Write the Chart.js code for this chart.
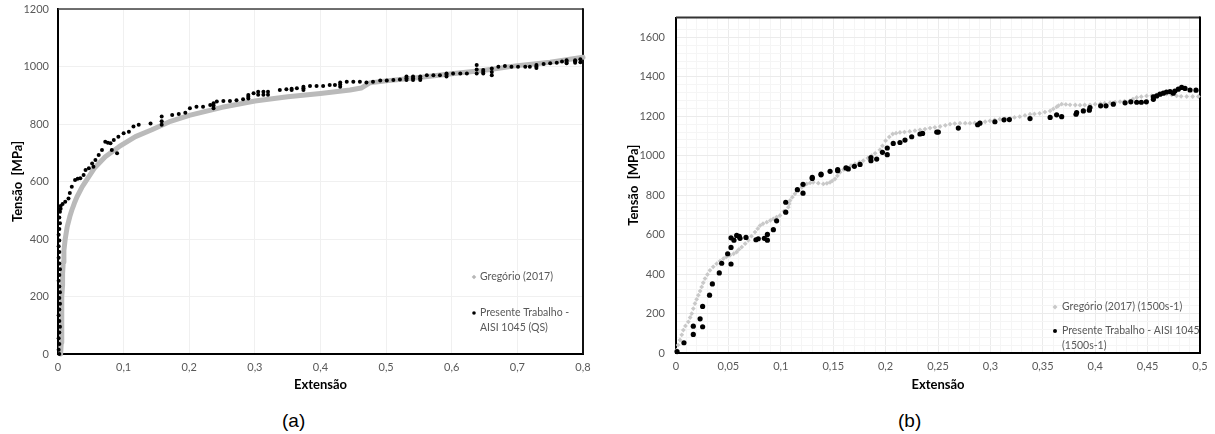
<!DOCTYPE html>
<html><head><meta charset="utf-8">
<script src="https://cdn.jsdelivr.net/npm/chart.js@4.4.1/dist/chart.umd.min.js"></script>
<style>
html,body{margin:0;padding:0;background:#fff;width:1215px;height:434px;overflow:hidden;position:relative}
.box{position:absolute;top:0;height:400px}
#ba{left:0;width:600px}
#bb{left:610px;width:605px}
.cap{position:absolute;top:411px;font:19px "Liberation Sans",Arial,sans-serif;line-height:1;color:#000}
</style></head><body>
<div class="box" id="ba"><canvas id="ca"></canvas></div>
<div class="box" id="bb"><canvas id="cb"></canvas></div>
<div class="cap" style="left:282px">(a)</div>
<div class="cap" style="left:898px">(b)</div>
<script>
// ---------- DATA ----------
const xTitle = 'Extensão';
const yTitle = 'Tensão  [MPa]';

// Chart (a)
const legendA_greg = ['Gregório (2017)'];
const legendA_pres = ['Presente Trabalho -', 'AISI 1045 (QS)'];
const xLabelsA = ['0','0,1','0,2','0,3','0,4','0,5','0,6','0,7','0,8'];
const yLabelsA = ['0','200','400','600','800','1000','1200'];
const gregA = [[0.004,0],[0.005,40],[0.006,80],[0.005,120],[0.006,160],[0.006,200],[0.007,240],[0.007,280],[0.008,320],[0.009,360],[0.011,400],[0.014,442],[0.018,478],[0.021,500],[0.025,525],[0.029,547],[0.037,582],[0.047,617],[0.056,648],[0.072,686],[0.093,721],[0.118,756],[0.143,780],[0.169,807],[0.2,830],[0.25,858],[0.3,880],[0.35,895],[0.4,906],[0.445,918],[0.462,925],[0.475,943],[0.5,950],[0.55,962],[0.6,975],[0.65,987],[0.7,1003],[0.75,1015],[0.8,1032]];
const presA = [[0.002,0],[0.001,15],[0.002,35],[0.001,55],[0.002,75],[0.003,95],[0.002,115],[0.001,135],[0.002,155],[0.003,175],[0.002,195],[0.003,215],[0.002,235],[0.001,255],[0.002,275],[0.003,295],[0.002,315],[0.001,335],[0.002,355],[0.001,375],[0.002,395],[0.001,415],[0.002,435],[0.003,455],[0.002,475],[0.003,495],[0.004,505],[0.004,515],
[0.007,522],[0.011,530],[0.016,541],[0.018,560],[0.021,582],[0.026,605],[0.03,610],[0.034,611],[0.039,623],[0.042,640],[0.047,646],[0.052,663],[0.054,651],[0.057,675],[0.062,692],[0.067,710],[0.072,738],[0.076,735],[0.08,733],[0.082,710],[0.09,698],[0.085,744],[0.092,756],[0.1,768],[0.108,773],[0.115,791],[0.123,797],[0.141,802],[0.158,797],[0.158,810],[0.158,826],[0.174,831],[0.184,835],[0.194,839],[0.201,855],[0.211,860],[0.221,860],[0.232,866],[0.237,855],[0.237,864],[0.237,872],[0.242,878],[0.252,880],[0.262,880],[0.272,883],[0.282,886],[0.29,889],[0.29,895],[0.29,901],[0.298,907],[0.305,902],[0.305,912],[0.313,902],[0.313,912],[0.32,902],[0.32,912],[0.338,918],[0.348,921],[0.356,918],[0.356,923],[0.364,924],[0.374,918],[0.374,924],[0.374,930],[0.384,932],[0.394,932],[0.404,932],[0.414,936],[0.422,936],[0.43,930],[0.43,937],[0.43,944],[0.44,947],[0.45,947],[0.46,947],[0.47,944],[0.48,947],[0.491,951],[0.501,951],[0.511,953],[0.521,955],[0.531,953],[0.531,959],[0.531,965],[0.541,953],[0.541,959],[0.541,965],[0.552,953],[0.552,959],[0.552,965],[0.562,970],[0.572,970],[0.582,970],[0.592,965],[0.592,971],[0.592,976],[0.602,976],[0.613,976],[0.623,976],[0.638,976],[0.638,990],[0.638,1005],[0.648,976],[0.648,982],[0.648,988],[0.661,970],[0.661,981],[0.661,993],[0.671,999],[0.681,1002],[0.691,999],[0.701,999],[0.712,999],[0.719,999],[0.729,995],[0.729,1000],[0.729,1005],[0.74,1009],[0.75,1011],[0.76,1013],[0.768,1017],[0.775,1011],[0.775,1016],[0.775,1022],[0.788,1013],[0.788,1018],[0.788,1022],[0.796,1015],[0.796,1025]];

// Chart (b)
const legendB_greg = ['Gregório (2017) (1500s-1)'];
const legendB_pres = ['Presente Trabalho - AISI 1045', '(1500s-1)'];
const xLabelsB = ['0','0,05','0,1','0,15','0,2','0,25','0,3','0,35','0,4','0,45','0,5'];
const yLabelsB = ['0','200','400','600','800','1000','1200','1400','1600'];
const gregB = [[0.0006,15],[0.002,40],[0.0038,66],[0.0055,92],[0.007,116],[0.009,137],[0.0118,158],[0.0135,180],[0.015,200],[0.0165,225],[0.0181,251],[0.0197,272],[0.0213,293],[0.023,314],[0.0245,335],[0.026,356],[0.0277,377],[0.03,398],[0.0324,419],[0.0355,437],[0.0388,453],[0.042,466],[0.0452,478],[0.048,487],[0.0515,495],[0.055,503],[0.0579,512],[0.06,525],[0.0627,537],[0.066,554],[0.069,571],[0.072,592],[0.0754,613],[0.078,630],[0.0802,646],[0.083,655],[0.0866,663],[0.09,672],[0.0929,680],[0.096,689],[0.0992,697],[0.103,718],[0.1072,739],[0.108,756],[0.1088,773],[0.111,790],[0.1135,807],[0.117,824],[0.12,840],[0.1225,850],[0.1247,857],[0.128,862],[0.131,865],[0.1358,861],[0.1406,857],[0.144,860],[0.147,865],[0.149,872],[0.1517,882],[0.154,898],[0.1565,916],[0.16,930],[0.1629,941],[0.167,950],[0.1708,958],[0.175,967],[0.1787,975],[0.183,988],[0.1866,1000],[0.19,1012],[0.1946,1030],[0.197,1050],[0.2,1076],[0.2035,1095],[0.2068,1110],[0.21,1114],[0.2137,1118],[0.218,1120],[0.223,1123],[0.228,1127],[0.2328,1131],[0.2376,1135],[0.2424,1140],[0.247,1144],[0.252,1148],[0.257,1154],[0.2615,1160],[0.266,1163],[0.271,1165],[0.276,1165],[0.2805,1165],[0.285,1166],[0.29,1168],[0.295,1172],[0.2996,1177],[0.304,1181],[0.309,1185],[0.314,1188],[0.3187,1190],[0.323,1194],[0.328,1198],[0.333,1204],[0.3378,1210],[0.342,1212],[0.347,1215],[0.352,1221],[0.357,1227],[0.36,1237],[0.3632,1247],[0.365,1254],[0.368,1261],[0.372,1260],[0.376,1258],[0.381,1257],[0.3855,1256],[0.39,1257],[0.395,1258],[0.4,1261],[0.405,1264],[0.409,1266],[0.4141,1269],[0.419,1271],[0.4237,1274],[0.428,1276],[0.433,1278],[0.436,1287],[0.4396,1295],[0.444,1299],[0.449,1303],[0.454,1305],[0.4587,1308],[0.463,1310],[0.468,1312],[0.473,1308],[0.4777,1303],[0.482,1301],[0.4873,1300],[0.493,1300],[0.4984,1300]];
const presB = [[0.001,7],[0.0076,52],[0.0165,94],[0.0165,136],[0.023,173],[0.0254,133],[0.0254,236],[0.032,293],[0.0347,350],[0.0413,406],[0.0436,455],[0.0493,503],[0.0525,535],[0.0525,451],[0.0525,584],[0.0553,572],[0.0579,596],[0.0604,591],[0.0611,581],[0.0668,586],[0.0763,574],[0.0785,579],[0.0843,581],[0.0872,572],[0.0872,601],[0.0929,625],[0.096,670],[0.1047,714],[0.1047,764],[0.1158,828],[0.1212,855],[0.1212,810],[0.13,890],[0.13,885],[0.1384,907],[0.1384,903],[0.147,921],[0.1543,929],[0.1543,924],[0.1622,938],[0.1644,933],[0.1702,946],[0.1756,956],[0.186,991],[0.186,975],[0.1915,983],[0.197,1017],[0.2016,1005],[0.2016,1039],[0.2073,1062],[0.2137,1067],[0.2185,1079],[0.2249,1096],[0.2328,1110],[0.2353,1113],[0.2488,1120],[0.2503,1120],[0.2694,1140],[0.2878,1157],[0.29,1165],[0.3043,1172],[0.313,1182],[0.3181,1183],[0.3378,1188],[0.357,1194],[0.3632,1207],[0.368,1198],[0.3817,1210],[0.3823,1219],[0.3887,1227],[0.3944,1231],[0.395,1244],[0.4052,1253],[0.4103,1253],[0.4173,1261],[0.4285,1268],[0.434,1273],[0.4396,1271],[0.444,1271],[0.4488,1273],[0.4555,1286],[0.4555,1298],[0.4587,1303],[0.4618,1312],[0.465,1317],[0.468,1323],[0.4714,1325],[0.4745,1317],[0.476,1328],[0.4793,1337],[0.4825,1346],[0.4857,1341],[0.4905,1333],[0.4962,1332]];

// ---------- HELPERS ----------
const toXY = arr => arr.map(p => ({x: p[0], y: p[1]}));
const tickFont = {family: 'Lato', size: 11};
const titleFont = {family: 'Lato', size: 13, weight: 'bold'};
const tickColor = '#595959';

const frame = {
  id: 'frame',
  beforeDatasetsDraw(chart, args, o) {
    const {ctx, chartArea: a} = chart;
    ctx.save();
    ctx.strokeStyle = o.topColor; ctx.lineWidth = o.topWidth;
    ctx.beginPath(); ctx.moveTo(a.left, a.top); ctx.lineTo(a.right, a.top); ctx.stroke();
    ctx.strokeStyle = o.rightColor; ctx.lineWidth = o.rightWidth;
    ctx.beginPath(); ctx.moveTo(a.right, a.top - o.topWidth/2); ctx.lineTo(a.right, a.bottom); ctx.stroke();
    ctx.restore();
  }
};
const innerLegend = {
  id: 'innerLegend',
  afterDatasetsDraw(chart, args, o) {
    const ctx = chart.ctx;
    ctx.save();
    o.items.forEach((it, i) => {
      const ds = chart.data.datasets[i];
      ctx.fillStyle = ds.legendColor;
      ctx.beginPath();
      if (ds.legendShape === 'diamond') {
        const r = o.markR + 0.5;
        ctx.moveTo(it.x, it.y - r); ctx.lineTo(it.x + r, it.y); ctx.lineTo(it.x, it.y + r); ctx.lineTo(it.x - r, it.y);
        ctx.closePath();
      } else {
        ctx.arc(it.x, it.y, o.markR, 0, Math.PI * 2);
      }
      ctx.fill();
      ctx.fillStyle = tickColor;
      ctx.font = '10.5px Lato';
      ctx.textBaseline = 'middle';
      ds.legendLines.forEach((t, j) => ctx.fillText(t, it.x + o.gap, it.y + j * o.lineH));
    });
    ctx.restore();
  }
};

function fmtLabel(labels, step) {
  return v => {
    const k = Math.round(v / step);
    if (Math.abs(v / step - k) > 1e-6) return '';
    return labels[k] !== undefined ? labels[k] : '';
  };
}

// ---------- CHART (a) ----------
new Chart(document.getElementById('ca'), {
  type: 'scatter',
  data: {datasets: [
    {label: legendA_greg.join(' '), legendLines: legendA_greg, data: toXY(gregA), showLine: true,
     borderColor: '#bababa', borderWidth: 5, borderCapStyle: 'round', borderJoinStyle: 'round',
     pointStyle: 'rectRot', pointRadius: 2, backgroundColor: '#bababa', pointBorderWidth: 0,
     legendColor: '#b7b7b7', legendShape: 'diamond', clip: false, order: 2},
    {label: legendA_pres.join(' '), legendLines: legendA_pres, data: toXY(presA), showLine: false,
     pointStyle: 'circle', pointRadius: 2, backgroundColor: '#000', borderColor: '#000', pointBorderWidth: 0,
     legendColor: '#000', legendShape: 'circle', clip: false, order: 1}
  ]},
  options: {
    responsive: true, maintainAspectRatio: false, animation: false,
    layout: {padding: {left: 0, right: 17, top: 9, bottom: 0}},
    plugins: {legend: {display: false}, tooltip: {enabled: false},
      frame: {topColor: '#404040', topWidth: 1.5, rightColor: '#111', rightWidth: 2},
      innerLegend: {items: [{x: 474, y: 277}, {x: 474, y: 313}], gap: 6, lineH: 15, markR: 1.8}},
    scales: {
      x: {type: 'linear', min: 0, max: 0.8,
        ticks: {stepSize: 0.1, autoSkip: false, maxRotation: 0, padding: 7, font: tickFont, color: tickColor,
          callback: fmtLabel(xLabelsA, 0.1)},
        grid: {color: '#f0f0f0', drawTicks: false},
        border: {color: '#000', width: 2},
        title: {display: true, text: xTitle, font: titleFont, color: '#000', padding: {top: 0, bottom: 7}},
        afterFit: s => { s.height = 46; }},
      y: {type: 'linear', min: 0, max: 1200,
        ticks: {stepSize: 200, autoSkip: false, padding: 9, font: tickFont, color: tickColor,
          callback: fmtLabel(yLabelsA, 200)},
        grid: {color: '#f0f0f0', drawTicks: false},
        border: {color: '#000', width: 2},
        title: {display: true, text: yTitle, font: titleFont, color: '#000', padding: {top: 10, bottom: 0}},
        afterFit: s => { s.width = 58; s.paddingTop = 0; }}
    }
  },
  plugins: [frame, innerLegend]
});

// ---------- CHART (b) ----------
new Chart(document.getElementById('cb'), {
  type: 'scatter',
  data: {datasets: [
    {label: legendB_greg.join(' '), legendLines: legendB_greg, data: toXY(gregB), showLine: false,
     pointStyle: 'rectRot', pointRadius: 2.4, backgroundColor: '#c9c9c9', borderColor: '#c9c9c9', pointBorderWidth: 0,
     legendColor: '#c9c9c9', legendShape: 'diamond', clip: false, order: 2},
    {label: legendB_pres.join(' '), legendLines: legendB_pres, data: toXY(presB), showLine: false,
     pointStyle: 'circle', pointRadius: 2.6, backgroundColor: '#000', borderColor: '#000', pointBorderWidth: 0,
     legendColor: '#000', legendShape: 'circle', clip: false, order: 1}
  ]},
  options: {
    responsive: true, maintainAspectRatio: false, animation: false,
    layout: {padding: {left: 0, right: 15, top: 17, bottom: 0}},
    plugins: {legend: {display: false}, tooltip: {enabled: false},
      frame: {topColor: '#333', topWidth: 2, rightColor: '#000', rightWidth: 2},
      innerLegend: {items: [{x: 445, y: 307}, {x: 445, y: 331}], gap: 7, lineH: 15, markR: 2}},
    scales: {
      x: {type: 'linear', min: 0, max: 0.5,
        ticks: {stepSize: 0.01, autoSkip: false, maxRotation: 0, padding: 7, font: tickFont, color: tickColor,
          callback: fmtLabel(xLabelsB, 0.05)},
        grid: {color: c => (c.tick && Math.abs(c.tick.value / 0.05 - Math.round(c.tick.value / 0.05)) < 1e-6) ? '#ebebeb' : '#f5f5f5', drawTicks: false},
        border: {color: '#000', width: 2},
        title: {display: true, text: xTitle, font: titleFont, color: '#000', padding: {top: 0, bottom: 7}},
        afterFit: s => { s.height = 47; }},
      y: {type: 'linear', min: 0, max: 1700,
        ticks: {stepSize: 40, autoSkip: false, padding: 11, font: tickFont, color: tickColor,
          callback: fmtLabel(yLabelsB, 200)},
        grid: {color: c => (c.tick && c.tick.value % 200 === 0) ? '#ebebeb' : '#f5f5f5', drawTicks: false},
        border: {color: '#000', width: 2},
        title: {display: true, text: yTitle, font: titleFont, color: '#000', padding: {top: 16, bottom: 0}},
        afterFit: s => { s.width = 66; }}
    }
  },
  plugins: [frame, innerLegend]
});
</script>
</body></html>
